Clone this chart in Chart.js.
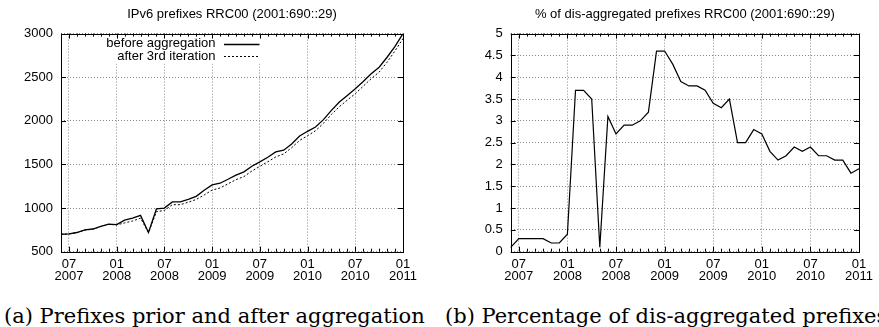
<!DOCTYPE html>
<html>
<head>
<meta charset="utf-8">
<script src="https://cdn.jsdelivr.net/npm/chart.js@4.4.1/dist/chart.umd.min.js"></script>
<style>
  html, body { margin: 0; padding: 0; background: #fff; }
  #page { position: relative; width: 879px; height: 327px; overflow: hidden; }
  .box { position: absolute; top: 0; height: 290px; }
  .cap { position: absolute; top: 306px; font-family: "DejaVu Serif", serif; font-size: 21px; line-height: 21px; white-space: nowrap; color: #000; }
</style>
</head>
<body>
<div id="page">
  <div class="box" style="left:0;width:440px"><canvas id="prefixChart" width="440" height="290"></canvas></div>
  <div class="box" style="left:440px;width:439px"><canvas id="pctChart" width="439" height="290"></canvas></div>
  <div class="cap" style="left:4px">(a) Prefixes prior and after aggregation</div>
  <div class="cap" style="left:445px">(b) Percentage of dis-aggregated prefixes</div>
</div>
<script>
// monthly samples, June 2007 .. January 2011
const months = [
  "2007-06","2007-07","2007-08","2007-09","2007-10","2007-11","2007-12",
  "2008-01","2008-02","2008-03","2008-04","2008-05","2008-06","2008-07","2008-08","2008-09","2008-10","2008-11","2008-12",
  "2009-01","2009-02","2009-03","2009-04","2009-05","2009-06","2009-07","2009-08","2009-09","2009-10","2009-11","2009-12",
  "2010-01","2010-02","2010-03","2010-04","2010-05","2010-06","2010-07","2010-08","2010-09","2010-10","2010-11","2010-12",
  "2011-01"
];

const beforeAggregation = [
  700, 705, 720, 750, 760, 790, 815,
  810, 862, 885, 916, 720, 990, 1000, 1070, 1070, 1100, 1135, 1205,
  1265, 1285, 1330, 1378, 1415, 1480, 1530, 1583, 1644, 1663, 1735, 1827,
  1880, 1930, 2014, 2120, 2215, 2291, 2368, 2451, 2539, 2614, 2729, 2854,
  3000
];

const after3rdIteration = [
  700, 703, 718, 748, 758, 788, 813,
  807, 830, 852, 884, 719, 959, 973, 1039, 1039, 1067, 1099, 1150,
  1207, 1230, 1278, 1326, 1361, 1425, 1478, 1531, 1586, 1621, 1692, 1776,
  1829, 1886, 1972, 2073, 2162, 2238, 2311, 2397, 2483, 2559, 2672, 2803,
  2943
];

const disaggregatedPct = [
  0.1, 0.3, 0.3, 0.3, 0.3, 0.2, 0.2,
  0.4, 3.7, 3.7, 3.5, 0.1, 3.1, 2.7, 2.9, 2.9, 3.0, 3.2, 4.6,
  4.6, 4.3, 3.9, 3.8, 3.8, 3.7, 3.4, 3.3, 3.5, 2.5, 2.5, 2.8,
  2.7, 2.3, 2.1, 2.2, 2.4, 2.3, 2.4, 2.2, 2.2, 2.1, 2.1, 1.8,
  1.9
];

const FONT = "'Liberation Sans', Arial, Helvetica, sans-serif";
Chart.defaults.color = '#000';
Chart.defaults.font.family = FONT;
Chart.defaults.font.size = 13;

function isMajor(label) {
  const mm = label.slice(5);
  return mm === "01" || mm === "07";
}

// gnuplot-like border with inward ticks
const framePlugin = {
  id: 'frame',
  afterDatasetsDraw(chart) {
    const { ctx, chartArea: a, scales } = chart;
    ctx.save();
    ctx.strokeStyle = '#000';
    ctx.lineWidth = 1;
    ctx.beginPath();
    months.forEach((m, i) => {
      const px = Math.round(scales.x.getPixelForValue(i)) + 0.5;
      const len = isMajor(m) ? 5 : 3;
      ctx.moveTo(px, a.bottom); ctx.lineTo(px, a.bottom - len);
      ctx.moveTo(px, a.top); ctx.lineTo(px, a.top + len);
    });
    scales.y.ticks.forEach(t => {
      const py = Math.round(scales.y.getPixelForValue(t.value)) + 0.5;
      ctx.moveTo(a.left, py); ctx.lineTo(a.left + 5, py);
      ctx.moveTo(a.right, py); ctx.lineTo(a.right - 5, py);
    });
    ctx.stroke();
    ctx.strokeRect(Math.round(a.left) + 0.5, Math.round(a.top) + 0.5,
                   Math.round(a.right - a.left), Math.round(a.bottom - a.top));
    ctx.restore();
  }
};

// key in gnuplot style: text then line sample
const keyPlugin = {
  id: 'key',
  beforeDatasetsDraw(chart) {
    const { ctx, chartArea: a } = chart;
    ctx.save();
    ctx.fillStyle = '#fff';
    ctx.fillRect(a.left + 44, a.top + 3, 158, 27);
    ctx.restore();
  },
  afterDatasetsDraw(chart) {
    const { ctx, chartArea: a } = chart;
    ctx.save();
    ctx.font = '13px ' + FONT;
    ctx.textAlign = 'right';
    ctx.textBaseline = 'middle';
    chart.data.datasets.forEach((ds, i) => {
      const y = a.top + 10 + i * 12.4;
      ctx.fillStyle = '#000';
      ctx.fillText(ds.label, a.left + 154.5, y);
      ctx.strokeStyle = '#000';
      ctx.lineWidth = ds.borderWidth;
      ctx.setLineDash(ds.borderDash || []);
      ctx.beginPath();
      ctx.moveTo(a.left + 163, Math.round(y) + 0.5);
      ctx.lineTo(a.left + 198.5, Math.round(y) + 0.5);
      ctx.stroke();
    });
    ctx.restore();
  }
};

function makeChart(id, datasets, yOpts, title, yWidth, padRight, plugins) {
  return new Chart(document.getElementById(id), {
    type: 'line',
    data: { labels: months, datasets },
    options: {
      responsive: false,
      animation: false,
      layout: { padding: { left: 0, right: padRight, top: 0, bottom: 0 } },
      elements: { point: { radius: 0 }, line: { tension: 0 } },
      plugins: {
        legend: { display: false },
        tooltip: { enabled: false },
        title: {
          display: true, text: title, fullSize: false,
          font: { size: 13, weight: 'normal' },
          padding: { top: 7, bottom: 11 }
        }
      },
      scales: {
        x: {
          type: 'category',
          afterFit: s => { s.height = 38.3; },
          border: { display: false, dash: [1, 2] },
          grid: { drawTicks: false, color: '#888', lineWidth: 1 },
          ticks: {
            autoSkip: false, maxRotation: 0, padding: 6,
            font: { size: 13, lineHeight: 0.96 },
            callback(value) {
              const lab = this.getLabelForValue(value);
              return isMajor(lab) ? [lab.slice(5), lab.slice(0, 4)] : null;
            }
          }
        },
        y: Object.assign({
          afterFit: s => { s.width = yWidth; },
          border: { display: false, dash: [1, 2] },
          grid: { drawTicks: false, color: '#888', lineWidth: 1 }
        }, yOpts)
      }
    },
    plugins: [framePlugin].concat(plugins || [])
  });
}

makeChart('prefixChart', [
  { label: 'before aggregation', data: beforeAggregation, borderColor: '#000', borderWidth: 1.3 },
  { label: 'after 3rd iteration', data: after3rdIteration, borderColor: '#000', borderWidth: 1, borderDash: [2, 2] }
], { min: 500, max: 3000, ticks: { stepSize: 500, padding: 8, callback: v => String(v) } },
  'IPv6 prefixes RRC00 (2001:690::29)', 61, 37, [keyPlugin]);

makeChart('pctChart', [
  { label: '% dis-aggregated', data: disaggregatedPct, borderColor: '#000', borderWidth: 1.2 }
], { min: 0, max: 5, ticks: { stepSize: 0.5, padding: 8, callback: v => String(v) } },
  '% of dis-aggregated prefixes RRC00 (2001:690::29)', 70.7, 18.3);
</script>
</body>
</html>
